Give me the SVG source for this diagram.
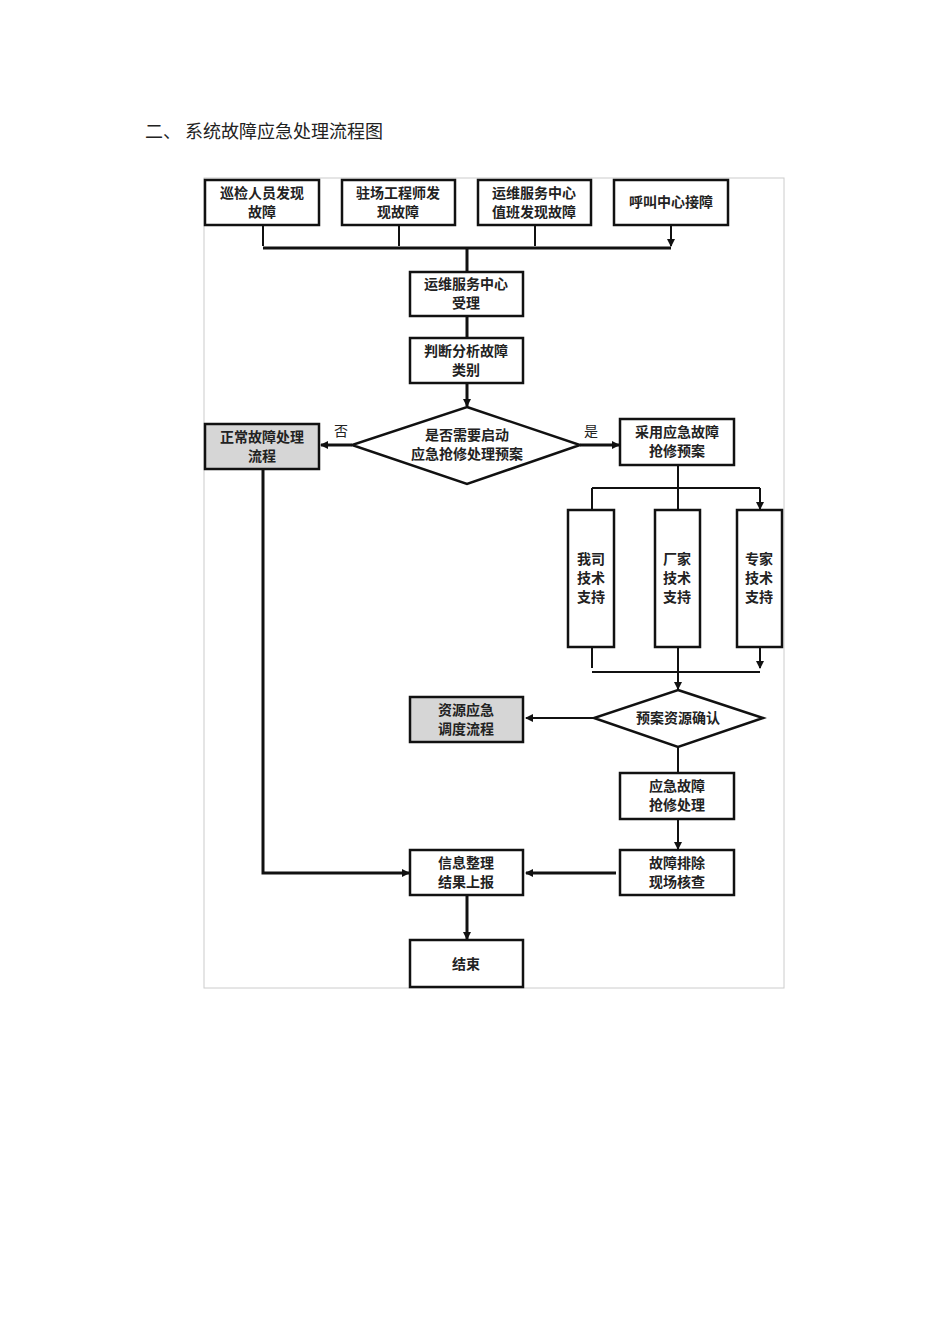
<svg xmlns="http://www.w3.org/2000/svg" width="950" height="1344" viewBox="0 0 950 1344">
<style>
.b{fill:#fff;stroke:#111;stroke-width:2.5}
.g{fill:#d6d6d6;stroke:#111;stroke-width:2.5}
.t{font-family:"Noto Sans CJK SC",sans-serif;font-size:14px;font-weight:bold;fill:#222;text-anchor:middle}
.c{fill:none;stroke:#111;stroke-width:2}
.w{stroke-width:3}
</style>
<defs><marker id="a" markerWidth="8" markerHeight="8" refX="7" refY="4" orient="auto" markerUnits="userSpaceOnUse"><path d="M0,0L8,4L0,8z" fill="#111"/></marker></defs>
<rect width="950" height="1344" fill="#fff"/>
<text x="145" y="138" font-family="'Noto Sans CJK SC',serif" font-size="18" fill="#222">二、  系统故障应急处理流程图</text>
<rect x="204" y="178" width="580" height="810" fill="none" stroke="#ccc"/>
<g id="connectors">
<path class="c" d="M263,225V246M399,225V246M535,225V246M671,225V246" marker-end="url(#a)"/>
<path class="c w" d="M263,248H671"/>
<path class="c w" d="M467,248V271M467,316V337M467,383V406" marker-end="url(#a)"/>
<path class="c w" d="M352,445H321" marker-end="url(#a)"/>
<path class="c w" d="M580,445H619" marker-end="url(#a)"/>
<path class="c" d="M678,465V488M592,488H760"/>
<path class="c" d="M592,488V509M678,488V509M760,488V509" marker-end="url(#a)"/>
<path class="c" d="M592,647V668M760,647V668" marker-end="url(#a)"/>
<path class="c" d="M592,672H760"/>
<path class="c" d="M678,647V689" marker-end="url(#a)"/>
<path class="c" d="M594,718H526" marker-end="url(#a)"/>
<path class="c" d="M678,747V772M678,819V849" marker-end="url(#a)"/>
<path class="c w" d="M616,873H526" marker-end="url(#a)"/>
<path class="c w" d="M263,469V873H409" marker-end="url(#a)"/>
<path class="c w" d="M467,895V939" marker-end="url(#a)"/>
<text x="341" y="436" font-family="'Noto Sans CJK SC',sans-serif" font-size="14" fill="#222" text-anchor="middle">否</text>
<text x="591" y="436" font-family="'Noto Sans CJK SC',sans-serif" font-size="14" fill="#222" text-anchor="middle">是</text>
</g>
<g id="n1"><rect class="b" x="205" y="180" width="114" height="45"/><text class="t" x="262" y="198">巡检人员发现</text><text class="t" x="262" y="217">故障</text></g>
<g id="n2"><rect class="b" x="342" y="180" width="113" height="45"/><text class="t" x="398" y="198">驻场工程师发</text><text class="t" x="398" y="217">现故障</text></g>
<g id="n3"><rect class="b" x="478" y="180" width="113" height="45"/><text class="t" x="534" y="198">运维服务中心</text><text class="t" x="534" y="217">值班发现故障</text></g>
<g id="n4"><rect class="b" x="614" y="180" width="114" height="45"/><text class="t" x="671" y="207">呼叫中心接障</text></g>
<g id="n5"><rect class="b" x="410" y="272" width="113" height="44"/><text class="t" x="466" y="289">运维服务中心</text><text class="t" x="466" y="308">受理</text></g>
<g id="n6"><rect class="b" x="410" y="338" width="113" height="45"/><text class="t" x="466" y="356">判断分析故障</text><text class="t" x="466" y="375">类别</text></g>
<g id="n7"><polygon class="b" points="467,407 580,445 467,484 352,445"/><text class="t" x="467" y="440">是否需要启动</text><text class="t" x="467" y="459">应急抢修处理预案</text></g>
<g id="n8"><rect class="g" x="205" y="424" width="114" height="45"/><text class="t" x="262" y="442">正常故障处理</text><text class="t" x="262" y="461">流程</text></g>
<g id="n9"><rect class="b" x="620" y="419" width="114" height="46"/><text class="t" x="677" y="437">采用应急故障</text><text class="t" x="677" y="456">抢修预案</text></g>
<g id="n10"><rect class="b" x="568" y="510" width="46" height="137"/><text class="t" x="591" y="564">我司</text><text class="t" x="591" y="583">技术</text><text class="t" x="591" y="602">支持</text></g>
<g id="n11"><rect class="b" x="655" y="510" width="45" height="137"/><text class="t" x="677" y="564">厂家</text><text class="t" x="677" y="583">技术</text><text class="t" x="677" y="602">支持</text></g>
<g id="n12"><rect class="b" x="737" y="510" width="45" height="137"/><text class="t" x="759" y="564">专家</text><text class="t" x="759" y="583">技术</text><text class="t" x="759" y="602">支持</text></g>
<g id="n13"><polygon class="b" points="678,690 763,718 678,747 594,718"/><text class="t" x="678" y="723">预案资源确认</text></g>
<g id="n14"><rect class="g" x="410" y="697" width="113" height="45"/><text class="t" x="466" y="715">资源应急</text><text class="t" x="466" y="734">调度流程</text></g>
<g id="n15"><rect class="b" x="620" y="773" width="114" height="46"/><text class="t" x="677" y="791">应急故障</text><text class="t" x="677" y="810">抢修处理</text></g>
<g id="n16"><rect class="b" x="620" y="850" width="114" height="45"/><text class="t" x="677" y="868">故障排除</text><text class="t" x="677" y="887">现场核查</text></g>
<g id="n17"><rect class="b" x="410" y="850" width="113" height="45"/><text class="t" x="466" y="868">信息整理</text><text class="t" x="466" y="887">结果上报</text></g>
<g id="n18"><rect class="b" x="410" y="940" width="113" height="47"/><text class="t" x="466" y="969">结束</text></g>
</svg>
